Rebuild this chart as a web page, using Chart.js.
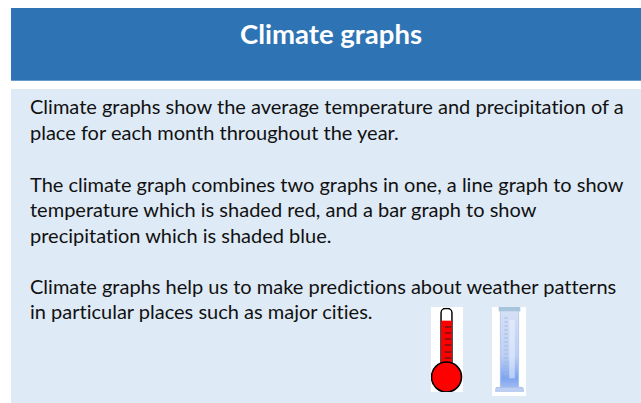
<!DOCTYPE html>
<html>
<head>
<meta charset="utf-8">
<title>Climate graphs</title>
<script src="https://cdn.jsdelivr.net/npm/chart.js@4"></script>
<style>
  html, body { margin: 0; background: #fff; }
  #page { position: relative; width: 641px; height: 403px; overflow: hidden; font-family: Lato, sans-serif; color: #111; font-variant-ligatures: none; }
  #header { position: absolute; left: 11px; top: 8px; width: 630px; height: 72px; background: #2e74b5; border-bottom: 1px solid #6b9bcb; }
  #title { position: absolute; left: 10px; right: 0; top: 9px; text-align: center; color: #fff; font-size: 27.5px; font-weight: 700; line-height: 34px; }
  #panel { position: absolute; left: 11px; top: 89px; width: 630px; height: 314px; background: #deeaf6; }
  .line { position: absolute; left: 30px; white-space: pre; font-size: 20px; line-height: 24px; }
  canvas { position: absolute; }
  #thermo { left: 431px; top: 307px; background: #fff; }
  #cylinder { left: 492px; top: 307px; background: #fff; filter: blur(0.6px); }
</style>
</head>
<body>
<div id="page">
  <div id="header"><div id="title">Climate graphs</div></div>
  <div id="panel"></div>
  <canvas id="thermo" width="32" height="85"></canvas>
  <canvas id="cylinder" width="34" height="89"></canvas>
</div>
<script>
// slide text, one entry per visual line
const textLines = [
  'Climate graphs show the average temperature and precipitation of a',
  'place for each month throughout the year.',
  'The climate graph combines two graphs in one, a line graph to show',
  'temperature which is shaded red, and a bar graph to show',
  'precipitation which is shaded blue.',
  'Climate graphs help us to make predictions about weather patterns',
  'in particular places such as major cities.'
];
const textTops = [94, 120, 172, 197, 223, 274, 299];

// thermometer readings (no scale is printed, values are estimated from the picture)
const thermoTube = [69];
const thermoLevel = [56];
const thermoBulb = [0];
const thermoMarks = [50, 44, 38, 32, 25, 19];

// measuring cylinder
const glassHeight = [82];
const highlightRange = [[14, 72]];
const baseRange = [[0, 5]];
const rimRange = [[81, 85]];
const glassMarks = [74, 70, 66, 62, 58, 54, 50, 46, 42, 38, 34, 30, 26, 22, 18];

const page = document.getElementById('page');
textLines.forEach((t, i) => {
  const d = document.createElement('div');
  d.className = 'line';
  d.textContent = t;
  d.style.top = textTops[i] + 'px';
  page.appendChild(d);
});

const hiddenScale = (min, max) => ({ type: 'linear', display: false, min, max });
const plainOptions = (xs, ys) => ({
  responsive: false,
  animation: false,
  events: [],
  layout: { padding: 0, autoPadding: false },
  plugins: { legend: { display: false }, tooltip: { enabled: false } },
  scales: { x: xs, y: ys }
});

new Chart(document.getElementById('thermo'), {
  data: {
    datasets: [
      { type: 'scatter', label: 'Marks', order: 0, data: thermoMarks.map(v => ({ x: 18, y: v })), pointStyle: 'line', pointRadius: 3.2, borderColor: '#222', borderWidth: 1 },
      { type: 'scatter', label: 'Bulb', order: 1, data: thermoBulb.map(v => ({ x: 15, y: v })), pointRadius: 15, backgroundColor: '#ff0000', borderColor: '#000', borderWidth: 1.6, clip: false },
      { type: 'bar', label: 'Level', order: 2, grouped: false, data: thermoLevel.map(v => ({ x: 15, y: v })), backgroundColor: '#ff0000', barThickness: 10 },
      { type: 'bar', label: 'Tube', order: 3, grouped: false, data: thermoTube.map(v => ({ x: 15, y: v })), backgroundColor: '#fff', borderColor: '#000', borderWidth: 1.6, borderRadius: { topLeft: 5, topRight: 5 }, borderSkipped: 'bottom', barThickness: 12 }
    ]
  },
  options: plainOptions(hiddenScale(0, 32), hiddenScale(-15, 70))
});

function glassFill(c) {
  const { ctx, chartArea } = c.chart;
  if (!chartArea) return '#cfdcf8';
  const g = ctx.createLinearGradient(0, chartArea.top, 0, chartArea.bottom);
  g.addColorStop(0, '#d8e2f6');
  g.addColorStop(0.55, '#bccff5');
  g.addColorStop(0.8, '#7ea5f0');
  g.addColorStop(0.94, '#a9c1f2');
  g.addColorStop(1, '#c3d3f5');
  return g;
}

new Chart(document.getElementById('cylinder'), {
  data: {
    datasets: [
      { type: 'scatter', label: 'Graduations', order: 0, data: glassMarks.map(v => ({ x: 11, y: v })), pointStyle: 'line', pointRadius: 1.6, borderColor: '#a5b6d8', borderWidth: 1 },
      { type: 'bar', label: 'Rim', order: 1, grouped: false, data: rimRange.map(v => ({ x: 18, y: v })), backgroundColor: '#a7c5dc', barThickness: 21 },
      { type: 'bar', label: 'Base', order: 1, grouped: false, data: baseRange.map(v => ({ x: 18, y: v })), backgroundColor: '#bccef2', borderColor: '#a9bfe8', borderWidth: 1, borderRadius: 3, barThickness: 28 },
      { type: 'bar', label: 'Highlight', order: 2, grouped: false, data: highlightRange.map(v => ({ x: 23, y: v })), backgroundColor: 'rgba(240,245,253,0.5)', barThickness: 5 },
      { type: 'bar', label: 'Glass', order: 3, grouped: false, data: glassHeight.map(v => ({ x: 18, y: v })), backgroundColor: glassFill, borderColor: '#b5c8ea', borderWidth: 1, barThickness: 19 }
    ]
  },
  options: plainOptions(hiddenScale(0, 34), hiddenScale(-4, 85))
});
</script>
</body>
</html>
